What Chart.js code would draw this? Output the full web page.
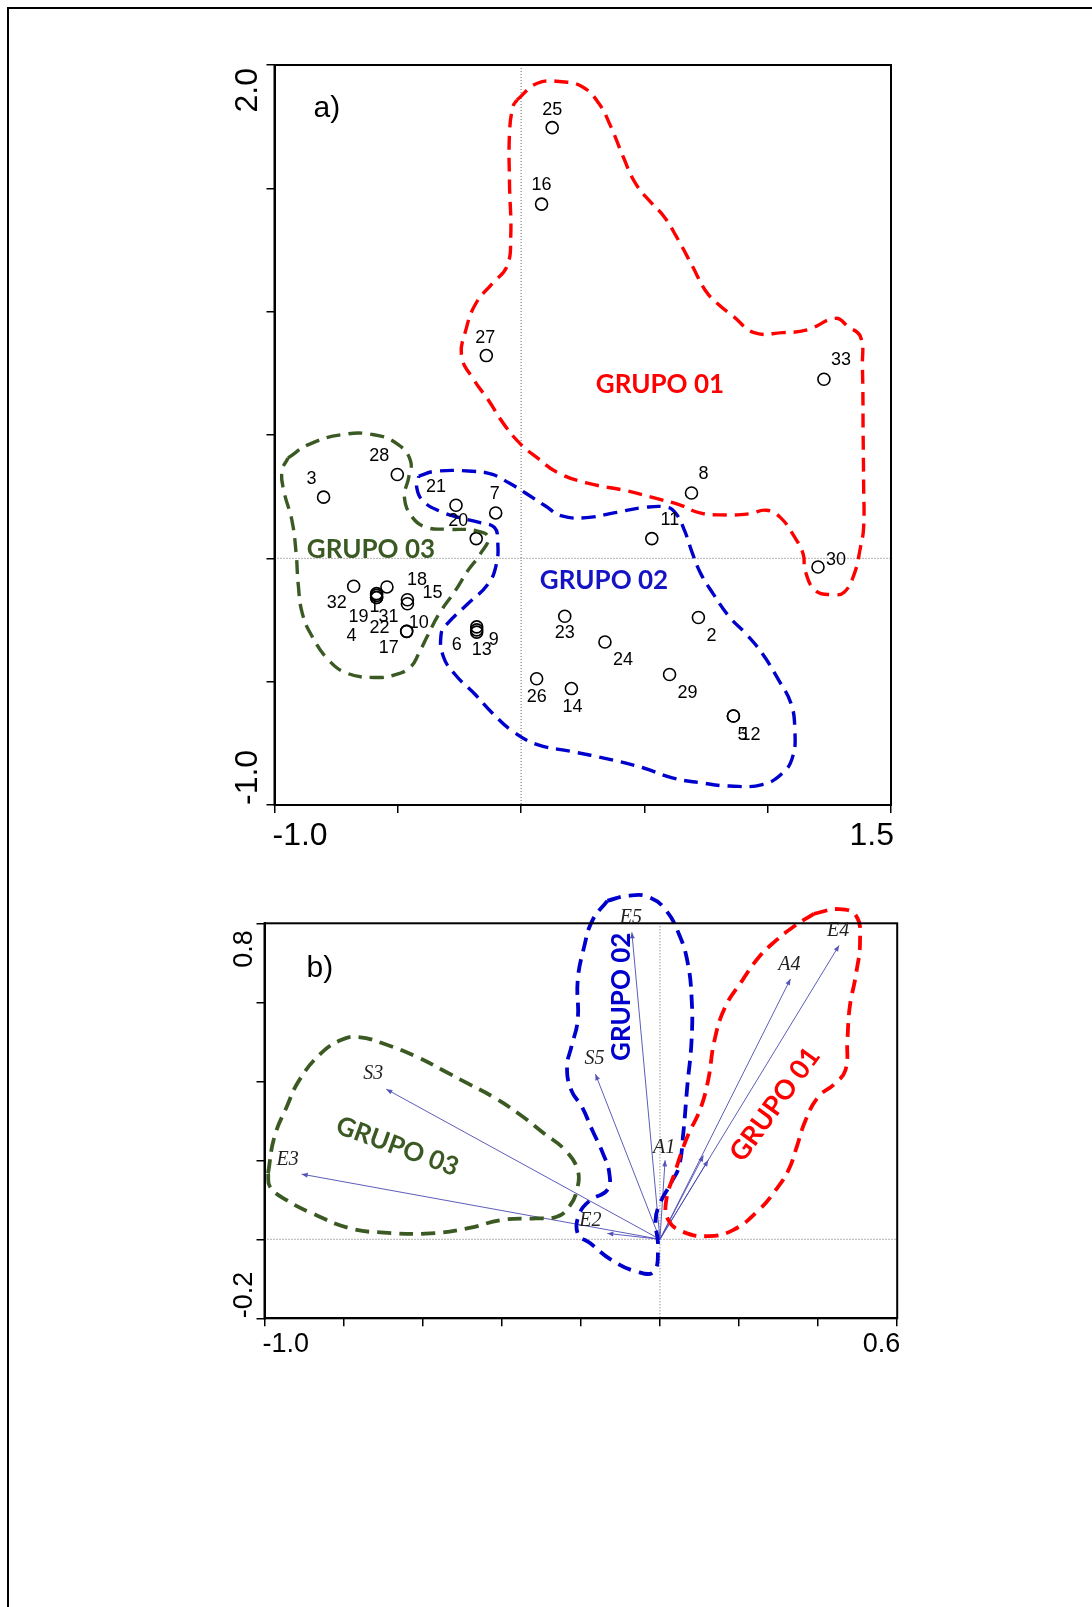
<!DOCTYPE html>
<html>
<head>
<meta charset="utf-8">
<script src="https://cdn.jsdelivr.net/npm/chart.js@4.4.1/dist/chart.umd.min.js"></script>
<style>
  html, body { margin: 0; padding: 0; background: #fff; }
  body { width: 1092px; height: 1607px; position: relative; overflow: hidden; }
  #marco { position: absolute; left: 7px; top: 7px; width: 1200px; height: 1700px;
           border-left: 2px solid #000; border-top: 2px solid #000; }
  canvas { position: absolute; left: 0; }
  #graficoA { top: 0; }
  #graficoB { top: 870px; }
</style>
</head>
<body>
<div id="marco"></div>
<canvas id="graficoA" width="1092" height="870"></canvas>
<canvas id="graficoB" width="1092" height="737"></canvas>
<script>
// ---------- a) sitios de muestreo ----------
const etiquetasSitios = ['25','16','27','33','3','28','21','7','20','8','11','30','23','2','24','26','14','29','5','12',
  '32','1','19','31','4','22','17','18','15','10','6','13','9'];
const sitiosX = [0.126, 0.083, -0.141, 1.228, -0.801, -0.502, -0.264, -0.103, -0.182, 0.691, 0.530, 1.204, 0.177, 0.719,
  0.340, 0.063, 0.204, 0.602, 0.861, 0.861, -0.679, -0.586, -0.586, -0.461, -0.586, -0.586, -0.464, -0.544, -0.461,
  -0.464, -0.180, -0.180, -0.180];
const sitiosY = [1.746, 1.436, 0.822, 0.726, 0.248, 0.340, 0.215, 0.184, 0.080, 0.265, 0.080, -0.035, -0.235, -0.240,
  -0.339, -0.488, -0.528, -0.471, -0.639, -0.639, -0.113, -0.143, -0.159, -0.184, -0.159, -0.150, -0.296, -0.116, -0.168,
  -0.296, -0.278, -0.299, -0.290];
const ticksA_X = ['-1.0', '1.5'];
const ticksA_Y = ['-1.0', '2.0'];

// contornos de los grupos (a)
const contornoA1 = [[-0.017,1.858],[0.066,1.926],[0.165,1.932],[0.248,1.912],[0.315,1.845],[0.364,1.750],[0.414,1.628],
  [0.464,1.520],[0.530,1.439],[0.580,1.385],[0.630,1.304],[0.696,1.182],[0.746,1.088],[0.795,1.034],[0.862,0.980],
  [0.945,0.915],[1.061,0.915],[1.160,0.926],[1.276,0.973],[1.326,0.939],[1.376,0.899],[1.384,0.777],[1.387,0.500],
  [1.389,0.300],[1.389,0.125],[1.376,0.044],[1.351,-0.063],[1.310,-0.137],[1.260,-0.147],[1.193,-0.130],[1.152,-0.050],
  [1.144,0.017],[1.110,0.085],[1.052,0.165],[0.994,0.195],[0.928,0.181],[0.812,0.176],[0.721,0.185],[0.646,0.216],
  [0.563,0.239],[0.431,0.273],[0.265,0.306],[0.149,0.347],[0.066,0.407],[0.000,0.461],[-0.067,0.540],[-0.133,0.642],
  [-0.191,0.723],[-0.241,0.818],[-0.224,0.926],[-0.183,1.034],[-0.116,1.115],[-0.058,1.182],[-0.042,1.304],
  [-0.047,1.520],[-0.047,1.723],[-0.033,1.831],[-0.017,1.858]];
const contornoA2 = [[-0.415,0.333],[-0.348,0.353],[-0.199,0.353],[-0.116,0.340],[-0.050,0.306],[0.016,0.266],[0.099,0.212],
  [0.165,0.172],[0.265,0.165],[0.381,0.185],[0.497,0.206],[0.596,0.206],[0.630,0.179],[0.663,0.112],[0.696,0.017],
  [0.729,-0.063],[0.779,-0.144],[0.845,-0.238],[0.911,-0.305],[0.978,-0.386],[1.044,-0.493],[1.094,-0.587],[1.110,-0.695],
  [1.102,-0.802],[1.061,-0.870],[0.978,-0.917],[0.845,-0.923],[0.729,-0.910],[0.613,-0.890],[0.497,-0.850],[0.364,-0.816],
  [0.199,-0.782],[0.066,-0.755],[-0.033,-0.702],[-0.116,-0.628],[-0.191,-0.547],[-0.266,-0.473],[-0.315,-0.399],
  [-0.324,-0.305],[-0.299,-0.265],[-0.216,-0.184],[-0.133,-0.103],[-0.100,-0.023],[-0.095,0.071],[-0.108,0.125],
  [-0.166,0.145],[-0.249,0.165],[-0.332,0.192],[-0.398,0.233],[-0.423,0.286],[-0.415,0.333]];
const contornoA3 = [[-0.945,0.407],[-0.862,0.461],[-0.730,0.501],[-0.597,0.501],[-0.498,0.461],[-0.448,0.394],
  [-0.456,0.327],[-0.473,0.246],[-0.440,0.165],[-0.382,0.125],[-0.299,0.118],[-0.183,0.112],[-0.133,0.085],
  [-0.166,0.017],[-0.216,-0.050],[-0.266,-0.130],[-0.332,-0.224],[-0.382,-0.319],[-0.415,-0.386],[-0.448,-0.440],
  [-0.514,-0.473],[-0.597,-0.483],[-0.705,-0.466],[-0.780,-0.413],[-0.846,-0.319],[-0.887,-0.224],[-0.904,-0.103],
  [-0.912,0.017],[-0.929,0.152],[-0.962,0.273],[-0.970,0.353],[-0.945,0.407]];

// ---------- b) variables ----------
const etiquetasVar = ['E5','E4','A4','S5','S3','E3','A1','E2','',''];
const varX = [-0.071, 0.453, 0.330, -0.163, -0.692, -0.906, 0.013, -0.133, 0.122, 0.110];
const varY = [0.777, 0.744, 0.659, 0.418, 0.380, 0.165, 0.200, 0.015, 0.200, 0.212];
const ticksB_X = ['-1.0', '0.6'];
const ticksB_Y = ['-0.2', '0.8'];

const contornoB1 = [[0.389,0.824],[0.453,0.836],[0.496,0.819],[0.506,0.756],[0.496,0.672],[0.480,0.588],[0.474,0.504],
  [0.469,0.428],[0.442,0.394],[0.400,0.360],[0.368,0.301],[0.346,0.234],[0.325,0.175],[0.293,0.125],[0.250,0.074],
  [0.186,0.024],[0.122,0.008],[0.058,0.019],[0.021,0.049],[0.016,0.099],[0.037,0.167],[0.069,0.259],[0.101,0.327],
  [0.122,0.403],[0.138,0.504],[0.165,0.588],[0.208,0.655],[0.250,0.714],[0.293,0.756],[0.336,0.790],[0.389,0.824]];
const contornoB2 = [[-0.133,0.857],[-0.080,0.870],[-0.027,0.866],[0.016,0.832],[0.048,0.773],[0.069,0.706],[0.080,0.613],
  [0.080,0.504],[0.069,0.386],[0.059,0.268],[0.048,0.184],[0.027,0.141],[0.000,0.091],[-0.011,0.049],[-0.005,-0.019],
  [-0.016,-0.082],[-0.058,-0.082],[-0.123,-0.052],[-0.176,-0.010],[-0.208,0.015],[-0.203,0.066],[-0.176,0.099],
  [-0.133,0.125],[-0.128,0.167],[-0.144,0.217],[-0.171,0.276],[-0.197,0.335],[-0.224,0.377],[-0.235,0.436],
  [-0.224,0.487],[-0.208,0.554],[-0.208,0.655],[-0.192,0.739],[-0.171,0.807],[-0.133,0.857]];
const contornoB3 = [[-0.991,0.167],[-0.975,0.259],[-0.944,0.335],[-0.912,0.403],[-0.858,0.470],[-0.805,0.505],
  [-0.762,0.512],[-0.698,0.495],[-0.613,0.461],[-0.549,0.428],[-0.485,0.394],[-0.421,0.360],[-0.357,0.318],
  [-0.293,0.268],[-0.240,0.226],[-0.208,0.175],[-0.210,0.125],[-0.229,0.083],[-0.261,0.057],[-0.314,0.053],
  [-0.400,0.049],[-0.485,0.028],[-0.581,0.015],[-0.698,0.017],[-0.784,0.028],[-0.880,0.066],[-0.944,0.099],
  [-0.986,0.133],[-0.991,0.167]];

// colores
const ROJO = '#ff0000', AZUL = '#0000cc', VERDE = '#3b5a23', FLECHA = 'rgba(75,75,180,0.9)';

// desplazamiento de cada etiqueta respecto a su punto (px)
const despSitios = [[0,-18],[0,-19],[-1,-18],[17,-19],[-12,-18],[-18,-18],[-20,-18],[-1,-19],[-18,-18],[12,-19],[18,-19],
  [18,-7],[0,17],[13,18],[18,18],[0,18],[1,18],[18,19],[9,19],[17,19],
  [-17,17],[-2,13],[-18,19],[-19,13],[-25,38],[3,33],[-18,17],[30,-7],[25,-7],[12,-8],[-20,18],[5,18],[17,10]];
const despVar = [[-1,-15],[-1,-15],[-1,-14],[-1,-15],[-13,-15],[-14,-14],[-1,-13],[-17,-13],[0,0],[0,0]];

const aPuntos = (arr) => arr.map(([x, y]) => ({ x, y }));

function contorno(datos, color, grosor) {
  return {
    type: 'line', data: aPuntos(datos), borderColor: color, borderWidth: grosor, borderDash: [14, 8],
    tension: 0.45, pointRadius: 0, pointHoverRadius: 0, fill: false, showLine: true, clip: false
  };
}

function escala(min, max, paso, eje) {
  return {
    type: 'linear', min, max,
    ticks: { display: false, stepSize: paso },
    grid: { display: true, drawOnChartArea: false, drawTicks: true, tickLength: 8, color: '#000', lineWidth: 1.5 },
    border: { display: true, color: '#000', width: 2 },
    afterFit(s) { if (eje === 'x') s.height = 10; else s.width = 10; }
  };
}

// plugin propio: líneas del origen, marco, etiquetas y textos
const decorado = {
  id: 'decorado',
  beforeDatasetsDraw(chart, args, o) {
    const { ctx, chartArea: a, scales: { x, y } } = chart;
    const x0 = x.getPixelForValue(0), y0 = y.getPixelForValue(0);
    ctx.save();
    ctx.strokeStyle = '#666'; ctx.lineWidth = 1; ctx.setLineDash([1, 2]);
    ctx.beginPath();
    ctx.moveTo(x0, a.top); ctx.lineTo(x0, a.bottom);
    ctx.moveTo(a.left, y0); ctx.lineTo(a.right, y0);
    ctx.stroke();
    ctx.restore();
  },
  afterDatasetsDraw(chart, args, o) {
    const { ctx, chartArea: a, scales: { x, y } } = chart;
    ctx.save();
    // marco
    ctx.strokeStyle = '#000'; ctx.lineWidth = 2;
    ctx.strokeRect(a.left, a.top, a.right - a.left, a.bottom - a.top);

    // puntas de flecha
    if (o.flechas) {
      ctx.fillStyle = FLECHA;
      o.flechas.forEach(i => {
        const pts = chart.getDatasetMeta(i).data;
        const p0 = pts[0], p1 = pts[1];
        const ang = Math.atan2(p1.y - p0.y, p1.x - p0.x);
        ctx.save();
        ctx.translate(p1.x, p1.y); ctx.rotate(ang);
        ctx.beginPath(); ctx.moveTo(0, 0); ctx.lineTo(-6, -2.5); ctx.lineTo(-6, 2.5); ctx.closePath(); ctx.fill();
        ctx.restore();
      });
      ctx.font = 'italic 20px "Liberation Serif", "Times New Roman", serif';
      ctx.fillStyle = '#222'; ctx.textAlign = 'center'; ctx.textBaseline = 'middle';
      o.flechas.forEach((i, k) => {
        const p1 = chart.getDatasetMeta(i).data[1];
        if (etiquetasVar[k]) ctx.fillText(etiquetasVar[k], p1.x + despVar[k][0], p1.y + despVar[k][1]);
      });
    }

    // etiquetas de los sitios
    if (o.sitios !== undefined) {
      ctx.font = '18px "Liberation Sans", Arial, sans-serif';
      ctx.fillStyle = '#000'; ctx.textAlign = 'center'; ctx.textBaseline = 'middle';
      chart.getDatasetMeta(o.sitios).data.forEach((p, i) => {
        ctx.fillText(etiquetasSitios[i], p.x + despSitios[i][0], p.y + despSitios[i][1]);
      });
    }

    // nombres de grupos
    ctx.textAlign = 'center'; ctx.textBaseline = 'middle';
    o.grupos.forEach(g => {
      ctx.save();
      ctx.translate(x.getPixelForValue(g.x), y.getPixelForValue(g.y));
      ctx.rotate(g.rot * Math.PI / 180);
      ctx.font = 'bold ' + g.size + 'px Lato, "Open Sans", sans-serif';
      ctx.fillStyle = g.color;
      ctx.fillText(g.t, 0, 0);
      ctx.restore();
    });

    // etiquetas de los extremos de los ejes
    ctx.fillStyle = '#000';
    ctx.font = o.fuente + 'px "Liberation Sans", Arial, sans-serif';
    ctx.textBaseline = 'alphabetic';
    ctx.textAlign = 'left'; ctx.fillText(o.ticksX[0], a.left - 2, a.bottom + o.bajoX);
    ctx.textAlign = 'right'; ctx.fillText(o.ticksX[1], a.right + 3, a.bottom + o.bajoX);
    ctx.save();
    ctx.translate(o.baseY, a.bottom); ctx.rotate(-Math.PI / 2);
    ctx.textAlign = 'left'; ctx.fillText(o.ticksY[0], 0, 0);
    ctx.restore();
    ctx.save();
    ctx.translate(o.baseY, a.top + o.margenSup); ctx.rotate(-Math.PI / 2);
    ctx.textAlign = 'right'; ctx.fillText(o.ticksY[1], 0, 0);
    ctx.restore();

    // letra del panel
    ctx.font = '30px "Liberation Sans", Arial, sans-serif';
    ctx.textAlign = 'left';
    ctx.fillText(o.letra, a.left + o.letraX, a.top + o.letraY);
    ctx.restore();
  }
};

const base = {
  responsive: false, animation: false, devicePixelRatio: 1,
  elements: { line: { capBezierPoints: false } },
  events: []
};

// ---------- gráfico a) ----------
new Chart(document.getElementById('graficoA'), {
  type: 'scatter',
  data: {
    datasets: [
      contorno(contornoA1, ROJO, 3.4),
      contorno(contornoA2, AZUL, 3.4),
      contorno(contornoA3, VERDE, 3.4),
      {
        type: 'scatter',
        data: sitiosX.map((v, i) => ({ x: v, y: sitiosY[i] })),
        pointRadius: 6, pointHoverRadius: 6, borderColor: '#000', borderWidth: 1.6,
        backgroundColor: 'rgba(0,0,0,0)', showLine: false
      }
    ]
  },
  options: Object.assign({}, base, {
    layout: { padding: { left: 264.5, right: 201, top: 65, bottom: 55 } },
    scales: { x: escala(-1, 1.5, 0.5, 'x'), y: escala(-1, 2, 0.5, 'y') },
    plugins: {
      legend: { display: false }, tooltip: { enabled: false },
      decorado: {
        sitios: 3,
        grupos: [
          { t: 'GRUPO 01', x: 0.563, y: 0.705, rot: 0, size: 26, color: ROJO },
          { t: 'GRUPO 02', x: 0.336, y: -0.089, rot: 0, size: 26, color: '#1414c4' },
          { t: 'GRUPO 03', x: -0.609, y: 0.036, rot: 0, size: 26, color: VERDE }
        ],
        ticksX: ticksA_X, ticksY: ticksA_Y, fuente: 32, bajoX: 40, baseY: 257, margenSup: 3,
        letra: 'a)', letraX: 39, letraY: 52
      }
    }
  }),
  plugins: [decorado]
});

// ---------- gráfico b) ----------
const flechas = varX.map((v, i) => ({
  type: 'line', data: [{ x: 0, y: 0 }, { x: v, y: varY[i] }],
  borderColor: FLECHA, borderWidth: 1, pointRadius: 0, pointHoverRadius: 0, tension: 0, fill: false, showLine: true
}));

new Chart(document.getElementById('graficoB'), {
  type: 'scatter',
  data: {
    datasets: [
      contorno(contornoB1, ROJO, 3.8),
      contorno(contornoB2, AZUL, 3.8),
      contorno(contornoB3, VERDE, 3.8),
      ...flechas
    ]
  },
  options: Object.assign({}, base, {
    layout: { padding: { left: 254.5, right: 194.8, top: 53.3, bottom: 278.7 } },
    scales: { x: escala(-1, 0.6, 0.2, 'x'), y: escala(-0.2, 0.8, 0.2, 'y') },
    plugins: {
      legend: { display: false }, tooltip: { enabled: false },
      decorado: {
        flechas: flechas.map((f, i) => i + 3),
        grupos: [
          { t: 'GRUPO 01', x: 0.291, y: 0.341, rot: -54, size: 27, color: ROJO },
          { t: 'GRUPO 02', x: -0.097, y: 0.614, rot: -90, size: 26, color: AZUL },
          { t: 'GRUPO 03', x: -0.664, y: 0.235, rot: 20, size: 26, color: VERDE }
        ],
        ticksX: ticksB_X, ticksY: ticksB_Y, fuente: 27, bajoX: 34, baseY: 252, margenSup: 7,
        letra: 'b)', letraX: 42, letraY: 54
      }
    }
  }),
  plugins: [decorado]
});
</script>
</body>
</html>
